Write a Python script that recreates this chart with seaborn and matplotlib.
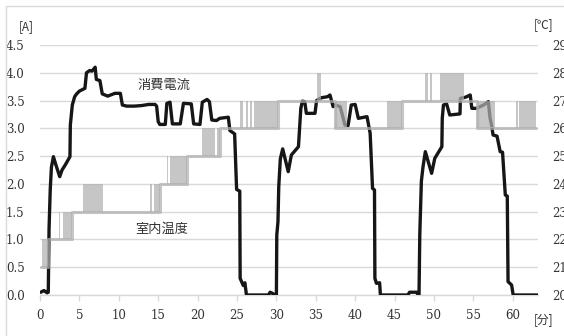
import matplotlib
matplotlib.use("Agg")
import matplotlib.pyplot as plt
from matplotlib.patches import Rectangle
import numpy as np
import pandas as pd
import seaborn as sns

# Consumed current [A] over time [min]
current_t = [0.1, 0.5, 0.9, 1.05, 1.15, 1.3, 1.45, 1.7, 2.0, 2.5, 2.8, 3.2, 3.8, 3.85,
             4.1, 4.4, 4.65, 5.0, 5.7, 5.9, 6.3, 6.6, 7.0, 7.15, 7.6, 7.9, 8.6, 9.5,
             10.2, 10.45, 11.0, 12.0, 12.9, 13.8, 14.6, 14.8, 15.0, 15.2, 15.9, 16.1,
             16.5, 16.8, 17.8, 18.2, 19.2, 19.5, 20.3, 20.6, 21.2, 21.5, 21.8, 22.4,
             22.8, 23.9, 24.1, 24.7, 24.95, 25.35, 25.4, 25.8, 26.0, 26.2, 29.0, 29.2,
             29.5, 29.8, 30.0, 30.05, 30.2, 30.3, 30.5, 30.8, 31.5, 31.9, 32.8, 33.0,
             33.1, 33.3, 33.6, 33.8, 34.9, 35.1, 35.7, 36.5, 36.8, 37.2, 37.4, 38.1,
             38.7, 39.1, 39.5, 40.0, 40.4, 41.5, 41.9, 42.2, 42.45, 42.5, 42.7, 43.1,
             43.2, 46.7, 46.9, 47.8, 48.0, 48.1, 48.2, 48.4, 48.6, 48.9, 49.7, 50.1,
             51.0, 51.05, 51.2, 51.6, 52.0, 53.3, 53.35, 54.0, 54.6, 54.8, 55.4, 56.3,
             56.9, 57.1, 57.3, 57.5, 58.0, 58.4, 58.7, 59.05, 59.3, 59.4, 59.85, 60.05,
             63.2]
current_a = [0.05, 0.08, 0.04, 0.05, 1.2, 1.9, 2.3, 2.49, 2.35, 2.13, 2.25, 2.34, 2.49, 3.06,
             3.42, 3.57, 3.62, 3.67, 3.72, 4.0, 4.04, 4.03, 4.1, 3.88, 3.86, 3.62, 3.58, 3.63,
             3.63, 3.42, 3.40, 3.40, 3.41, 3.43, 3.43, 3.40, 3.12, 3.07, 3.07, 3.45,
             3.47, 3.08, 3.08, 3.45, 3.44, 3.08, 3.07, 3.47, 3.52, 3.48, 3.15, 3.14,
             3.18, 3.20, 2.96, 2.90, 1.90, 1.87, 0.30, 0.17, 0.22, 0.0, 0.0, 0.05,
             0.03, 0.0, 0.0, 1.08, 1.32, 1.95, 2.45, 2.63, 2.22, 2.52, 2.67, 3.12,
             3.36, 3.49, 3.48, 3.27, 3.27, 3.50, 3.55, 3.57, 3.60, 3.39, 3.42, 3.39,
             3.06, 3.05, 3.42, 3.43, 3.18, 3.21, 2.91, 1.92, 1.89, 0.30, 0.21, 0.22,
             0.0, 0.0, 0.05, 0.05, 0.0, 0.0, 1.1, 2.05, 2.3, 2.58, 2.19, 2.46,
             2.67, 3.18, 3.42, 3.44, 3.24, 3.26, 3.54, 3.56, 3.60, 3.36, 3.36, 3.42,
             3.48, 3.20, 3.06, 2.88, 2.86, 2.58, 2.57, 1.80, 1.78, 0.24, 0.18, 0.0,
             0.0]

# Room temperature [°C]: steady levels (step changes)
temp_t = [0.13, 1.05, 4.1, 15.2, 18.7, 22.8, 30.2, 37.4, 46.0, 55.4, 63.0]
temp_v = [21, 22, 23, 24, 25, 26, 27, 26, 27, 26, 26]

# Room temperature: spans where the reading toggles between two levels
flick_t0 = [0.3, 2.4, 2.96, 5.5, 14.0, 14.45, 16.1, 16.5, 20.6, 22.45, 25.4, 26.1,
            26.6, 27.1, 35.1, 37.4, 44.0, 48.8, 49.5, 50.7, 55.4, 60.4, 60.8]
flick_t1 = [1.05, 2.6, 4.1, 8.0, 14.25, 15.2, 16.3, 18.7, 22.2, 22.8, 25.7, 26.4,
            26.9, 30.2, 35.7, 38.9, 46.0, 49.2, 49.8, 53.8, 57.7, 60.6, 63.0]
flick_lo = [21, 22, 22, 23, 23, 23, 24, 24, 25, 25, 26, 26,
            26, 26, 27, 26, 26, 27, 27, 27, 26, 26, 26]
flick_hi = [22, 23, 23, 24, 24, 24, 25, 25, 26, 26, 27, 27,
            27, 27, 28, 27, 27, 28, 28, 28, 27, 27, 27]

left_ticks = [0.0, 0.5, 1.0, 1.5, 2.0, 2.5, 3.0, 3.5, 4.0, 4.5]
right_ticks = [20, 21, 22, 23, 24, 25, 26, 27, 28, 29]
x_ticks = [0, 5, 10, 15, 20, 25, 30, 35, 40, 45, 50, 55, 60]

sns.set_theme(style="white")
plt.rcParams["font.family"] = ["DejaVu Serif"]
jp = ["Noto Sans CJK JP", "DejaVu Sans"]

W, H = 564, 336
fig = plt.figure(figsize=(W / 100, H / 100), dpi=100)
fig.patch.set_facecolor("white")
ax = fig.add_axes([40 / W, 1 - 295 / H, (538 - 40) / W, (295 - 45) / H])

grid_c = "#d9d9d9"
text_c = "#333333"
temp_c = "#b0b0b0"
temp_alpha = 0.72

cur = pd.DataFrame({"t": current_t, "a": current_a})
sns.lineplot(data=cur, x="t", y="a", ax=ax, color="#161616", linewidth=2.4,
             sort=False, estimator=None, zorder=3)

ax.set_xlim(0, 63.2)
ax.set_ylim(0, 4.5)
ax.set_yticks(left_ticks)
ax.set_yticklabels([f"{v:.1f}" for v in left_ticks])
ax.set_xticks(x_ticks)
ax.set_xticklabels([str(v) for v in x_ticks])
ax.set_xlabel("")
ax.set_ylabel("")
ax.yaxis.grid(True, color=grid_c, linewidth=1.0)
ax.set_axisbelow(True)
for s in ["left", "right", "top"]:
    ax.spines[s].set_visible(False)
ax.spines["bottom"].set_color(grid_c)
ax.spines["bottom"].set_linewidth(1.0)
ax.tick_params(axis="y", length=0, pad=11, labelsize=8.5, labelcolor=text_c)
ax.tick_params(axis="x", length=4, width=1, color=grid_c, direction="out",
               pad=6, labelsize=8.5, labelcolor=text_c, bottom=True)

# Temperature on the secondary axis, drawn above the current line
ax2 = ax.twinx()
ax2.set_ylim(20, 29)
tmp = pd.DataFrame({"t": temp_t, "v": temp_v})
sns.lineplot(data=tmp, x="t", y="v", ax=ax2, color=temp_c, alpha=temp_alpha,
             linewidth=2.2, drawstyle="steps-post", sort=False, estimator=None)
for t0, t1, lo, hi in zip(flick_t0, flick_t1, flick_lo, flick_hi):
    ax2.fill_between([t0, t1], [lo, lo], [hi, hi], color=temp_c, alpha=temp_alpha,
                     linewidth=0)
ax2.set_yticks(right_ticks)
ax2.set_yticklabels([str(v) for v in right_ticks])
ax2.set_ylabel("")
for s in ax2.spines.values():
    s.set_visible(False)
ax2.tick_params(axis="y", length=0, pad=10, labelsize=8.5, labelcolor=text_c)
ax2.grid(False)

ax.text(15.7, 3.78, "消費電流", family=jp, fontsize=9.5, color=text_c,
        ha="center", va="center")
ax.text(15.5, 1.19, "室内温度", family=jp, fontsize=9.5, color=text_c,
        ha="center", va="center", zorder=5)

fig.text(26 / W, 1 - 27 / H, "[A]", family=jp, fontsize=8.5, color=text_c,
         ha="center", va="center")
fig.text(544 / W, 1 - 25 / H, "[℃]", family=jp, fontsize=8.5, color=text_c,
         ha="center", va="center")
fig.text(544 / W, 1 - 320 / H, "[分]", family=jp, fontsize=8.5, color=text_c,
         ha="center", va="center")

fig.add_artist(Rectangle((6 / W, -0.05), 1.0, 1.05 - 6 / H, transform=fig.transFigure,
                         fill=False, edgecolor=grid_c, linewidth=1.0))

fig.savefig("out.png", dpi=100, facecolor="white")
